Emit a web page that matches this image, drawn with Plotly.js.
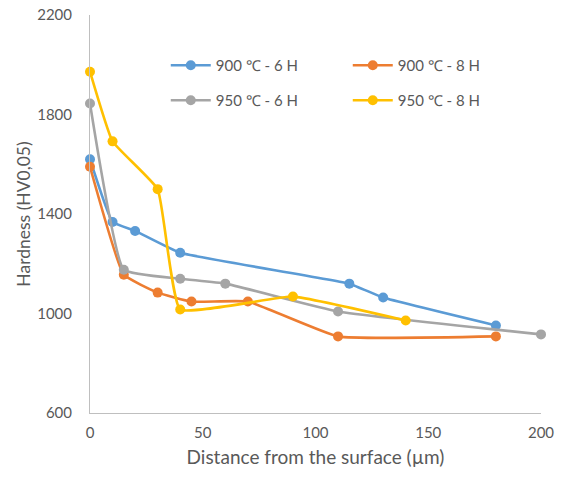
<!DOCTYPE html>
<html>
<head>
<meta charset="utf-8">
<script src="https://cdn.plot.ly/plotly-3.0.1.min.js"></script>
<style>html,body{margin:0;padding:0;background:#fff;}#chart{width:563px;height:478px;}</style>
</head>
<body>
<div id="chart"></div>
<script>
const seriesNames = ["900 ℃ - 6 H", "900 ℃ - 8 H", "950 ℃ - 6 H", "950 ℃ - 8 H"];
const x900_6 = [0, 10, 20, 40, 115, 130, 180];
const y900_6 = [1620, 1368, 1332, 1244, 1120, 1064, 952];
const x900_8 = [0, 15, 30, 45, 70, 110, 180];
const y900_8 = [1590, 1156, 1084, 1048, 1048, 908, 908];
const x950_6 = [0, 15, 40, 60, 110, 200];
const y950_6 = [1844, 1176, 1140, 1120, 1008, 916];
const x950_8 = [0, 10, 30, 40, 90, 140];
const y950_8 = [1972, 1692, 1500, 1016, 1068, 972];
const colors = ["#5B9BD5", "#ED7D31", "#A5A5A5", "#FFC000"];

const xs = [x900_6, x900_8, x950_6, x950_8];
const ys = [y900_6, y900_8, y950_6, y950_8];
const legends = ["legend", "legend", "legend2", "legend2"];
const traces = xs.map((x, i) => ({
  x: x, y: ys[i], name: seriesNames[i], type: "scatter", mode: "lines+markers",
  line: {color: colors[i], width: 2.6, shape: "spline", smoothing: 0.35},
  marker: {color: colors[i], size: 10},
  legend: legends[i], cliponaxis: false
}));

const fam = "Lato, 'Open Sans', sans-serif";
const legendBase = {
  orientation: "h", xanchor: "left", yanchor: "middle", x: 0.168,
  bgcolor: "rgba(0,0,0,0)", font: {family: fam, color: "#595959", size: 15},
  entrywidth: 127, entrywidthmode: "pixels", itemwidth: 40
};
const layout = {
  width: 563, height: 478,
  margin: {l: 90, r: 22, t: 15, b: 65},
  paper_bgcolor: "#fff", plot_bgcolor: "#fff",
  font: {family: fam, color: "#595959", size: 15},
  showlegend: true,
  legend: Object.assign({}, legendBase, {y: 0.873}),
  legend2: Object.assign({}, legendBase, {y: 0.785}),
  xaxis: {
    range: [0, 200], tickvals: [0, 50, 100, 150, 200], showgrid: false, zeroline: false,
    showline: true, linecolor: "#BFBFBF", linewidth: 1, ticks: "", ticklen: 0,
    ticklabelstandoff: 6,
    tickfont: {size: 15, color: "#595959"},
    title: {text: "Distance from the surface (µm)", font: {size: 19, color: "#595959"}, standoff: 10}
  },
  yaxis: {
    range: [600, 2200], tickvals: [600, 1000, 1400, 1800, 2200], showgrid: false, zeroline: false,
    showline: true, linecolor: "#BFBFBF", linewidth: 1, ticks: "", ticklen: 0,
    ticklabelstandoff: 14,
    tickfont: {size: 15, color: "#595959"},
    title: {text: "Hardness (HV0,05)", font: {size: 17.5, color: "#595959"}, standoff: 2}
  }
};
Plotly.newPlot("chart", traces, layout, {displayModeBar: false, staticPlot: true});
</script>
</body>
</html>
